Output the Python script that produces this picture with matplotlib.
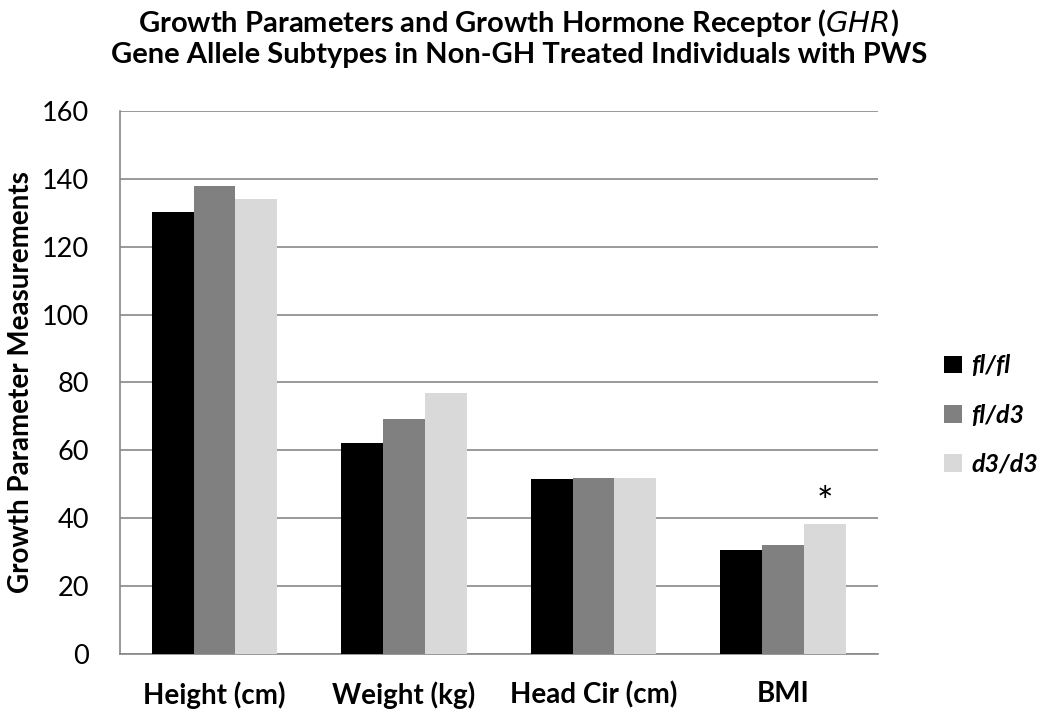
import matplotlib.pyplot as plt
import numpy as np

categories = ['Height (cm)', 'Weight (kg)', 'Head Cir (cm)', 'BMI']
series_names = ['fl/fl', 'fl/d3', 'd3/d3']
fl_fl = [130.2, 62.2, 51.4, 30.6]
fl_d3 = [138.0, 69.3, 51.8, 32.1]
d3_d3 = [134.0, 76.9, 51.8, 38.1]
colors = ['#000000', '#808080', '#d9d9d9']
star_category = 'BMI'
star_value = 44

plt.rcParams['font.family'] = ['Lato', 'DejaVu Sans']

fig = plt.figure(figsize=(10.5, 7.23), dpi=100)
ax = fig.add_axes([0.114, 0.096, 0.722, 0.750])

x = np.arange(len(categories))
width = 0.22
for i, (vals, name) in enumerate(zip([fl_fl, fl_d3, d3_d3], series_names)):
    ax.bar(x + (i - 1) * width, vals, width, color=colors[i], label=name, zorder=3)

# significance marker
si = categories.index(star_category)
ax.text(si + width, star_value, '*', ha='center', va='center', fontsize=28)

ax.set_xlim(-0.5, len(categories) - 0.5)
ax.set_ylim(0, 160)
ax.set_yticks(range(0, 161, 20))
ax.set_xticks(x)
ax.set_xticklabels(categories, fontsize=20, fontweight='bold')
ax.tick_params(axis='y', labelsize=19.5, length=0, pad=22)
ax.tick_params(axis='x', length=0, pad=20)
ax.yaxis.grid(True, color='#888888', linewidth=1.2, zorder=0)
for s in ['top', 'right']:
    ax.spines[s].set_visible(False)
for s in ['left', 'bottom']:
    ax.spines[s].set_color('#888888')
    ax.spines[s].set_linewidth(1.2)
ax.set_ylabel('Growth Parameter Measurements', fontsize=20, fontweight='bold', labelpad=6)

leg = fig.legend(loc='center left', bbox_to_anchor=(0.878, 0.426), frameon=False,
                 prop={'size': 18, 'style': 'italic', 'weight': 'bold'},
                 handlelength=0.72, handleheight=0.72, labelspacing=1.05, handletextpad=0.35)

fig.text(0.494, 0.99, 'Growth Parameters and Growth Hormone Receptor ($\\mathit{GHR}$)',
         ha='center', va='top', fontsize=21, fontweight='bold')
fig.text(0.494, 0.942, 'Gene Allele Subtypes in Non-GH Treated Individuals with PWS',
         ha='center', va='top', fontsize=21, fontweight='bold')

fig.savefig('out.png', dpi=100)
